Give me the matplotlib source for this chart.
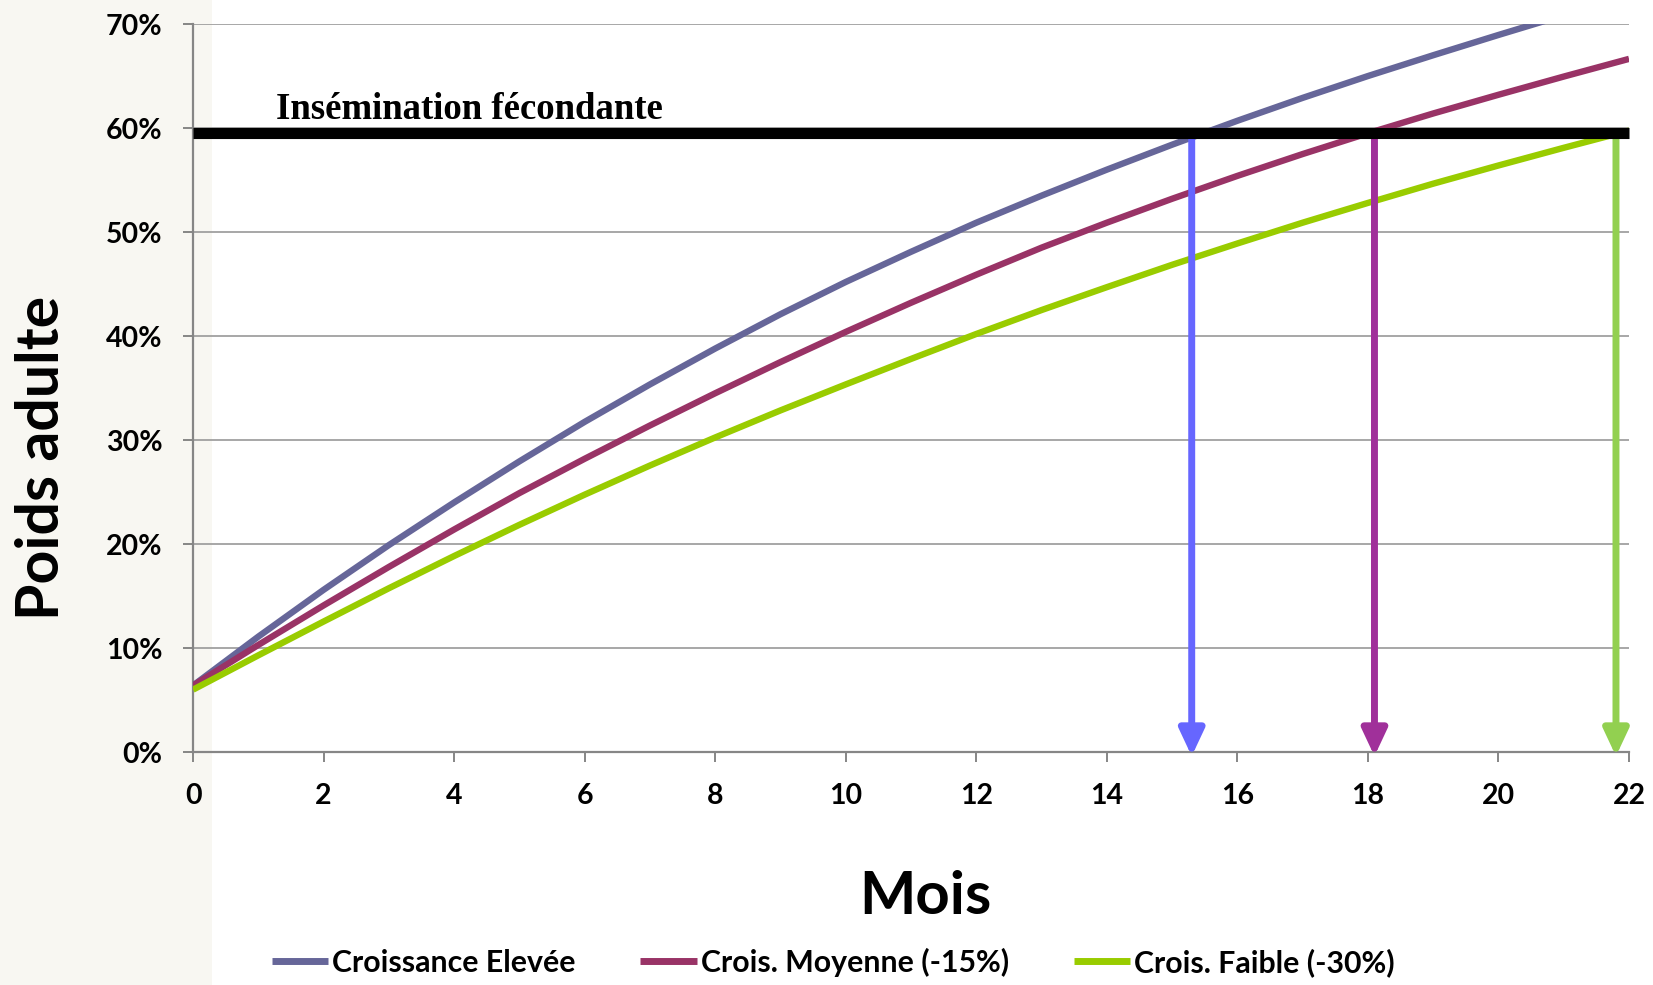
"""
Courbes de croissance : poids (en % du poids adulte) selon l'age en mois,
pour trois niveaux de croissance, avec le seuil d'insemination fecondante.
"""

import matplotlib

matplotlib.use("Agg")
import matplotlib.pyplot as plt
from matplotlib.patches import Rectangle
from matplotlib.ticker import PercentFormatter

# --- Data -----------------------------------------------------------------

MONTHS = list(range(23))

CROISSANCE_ELEVEE = [
    6.4, 11.1, 15.6, 19.9, 24.0, 27.95, 31.75, 35.35, 38.8, 42.1, 45.2, 48.1,
    50.9, 53.5, 56.0, 58.4, 60.7, 62.9, 65.0, 67.0, 68.95, 70.85, 72.65,
]
CROIS_MOYENNE = [
    6.4, 10.3, 14.1, 17.8, 21.4, 24.9, 28.2, 31.4, 34.5, 37.5, 40.4, 43.2,
    45.9, 48.5, 50.9, 53.2, 55.4, 57.5, 59.5, 61.4, 63.2, 64.95, 66.65,
]
CROIS_FAIBLE = [
    6.0, 9.3, 12.55, 15.75, 18.85, 21.85, 24.75, 27.55, 30.25, 32.85, 35.35,
    37.8, 40.2, 42.5, 44.7, 46.85, 48.9, 50.9, 52.8, 54.65, 56.4, 58.1, 59.75,
]

SERIES_LABELS = ["Croissance Elevée", "Crois. Moyenne (-15%)", "Crois. Faible (-30%)"]
SERIES_COLORS = ["#666699", "#993366", "#99CC00"]

# month at which each curve reaches the insemination threshold
ARRIVAL_MONTHS = [15.3, 18.1, 21.8]
ARROW_COLORS = ["#6666FF", "#A0309A", "#92D050"]

INSEMINATION_LEVEL = 59.5
INSEMINATION_LABEL = "Insémination fécondante"

Y_TICKS = [0, 10, 20, 30, 40, 50, 60, 70]
X_TICKS = list(range(0, 23, 2))

SANS = ["Lato", "DejaVu Sans"]


# --- Chart ------------------------------------------------------------------

fig = plt.figure(figsize=(16.53, 9.85), dpi=100)

# light patterned strip of the slide background, on the left
fig.patches.append(Rectangle((0, 0), 212 / 1653, 1, transform=fig.transFigure,
                             facecolor="#F8F7F2", edgecolor="none", zorder=-1))

ax = fig.add_axes([0.1168, 0.2365, 0.8687, 0.7391])
ax.set_facecolor("none")

series = [CROISSANCE_ELEVEE, CROIS_MOYENNE, CROIS_FAIBLE]
for values, label, color in zip(series, SERIES_LABELS, SERIES_COLORS):
    ax.plot(MONTHS, [v / 100 for v in values], color=color, lw=4.6,
            label=label, solid_capstyle="butt", solid_joinstyle="round", zorder=3)

# arrows from the threshold down to the month axis
level = INSEMINATION_LEVEL / 100
for month, color in zip(ARRIVAL_MONTHS, ARROW_COLORS):
    ax.annotate("", xy=(month, -0.004), xytext=(month, level),
                arrowprops=dict(arrowstyle="-|>,head_length=1.6,head_width=0.75",
                                color=color, lw=5, shrinkA=0, shrinkB=0),
                annotation_clip=False, zorder=4)

ax.plot([MONTHS[0], MONTHS[-1]], [level, level], color="black", lw=8,
        solid_capstyle="butt", zorder=5, clip_on=False)
ax.text(1.27, 0.609, INSEMINATION_LABEL, family="Liberation Serif",
        fontweight="bold", fontsize=26.5, va="baseline", ha="left", zorder=6)

ax.set_xlim(0, 22)
ax.set_ylim(0, 0.70)
ax.set_xticks(X_TICKS)
ax.set_yticks([t / 100 for t in Y_TICKS])
ax.yaxis.set_major_formatter(PercentFormatter(1.0, decimals=0))

ax.grid(axis="y", color="#A0A0A0", lw=1.3, zorder=1)
ax.set_axisbelow(True)
for side in ("top", "right"):
    ax.spines[side].set_visible(False)
for side in ("left", "bottom"):
    ax.spines[side].set_color("#868686")
    ax.spines[side].set_linewidth(1.6)

ax.tick_params(axis="both", direction="out", length=7, width=1.4,
               color="#868686", labelsize=20.5, pad=15)
for lab in ax.get_xticklabels() + ax.get_yticklabels():
    lab.set_family(SANS)
    lab.set_fontweight("bold")

fig.text(0.0255, 0.535, "Poids adulte", rotation=90, ha="center", va="center",
         family=SANS, fontweight="bold", fontsize=42.5)
fig.text(0.560, 0.089, "Mois", ha="center", va="center",
         family=SANS, fontweight="bold", fontsize=43)

fig.legend(loc="center", bbox_to_anchor=(0.504, 0.0228), ncol=3, frameon=False,
           prop=dict(family=SANS, weight="bold", size=21.8), handlelength=1.87,
           handletextpad=0.12, columnspacing=2.15)
for line in fig.legends[0].get_lines():
    line.set_linewidth(5)

fig.savefig("out.png", dpi=100)
